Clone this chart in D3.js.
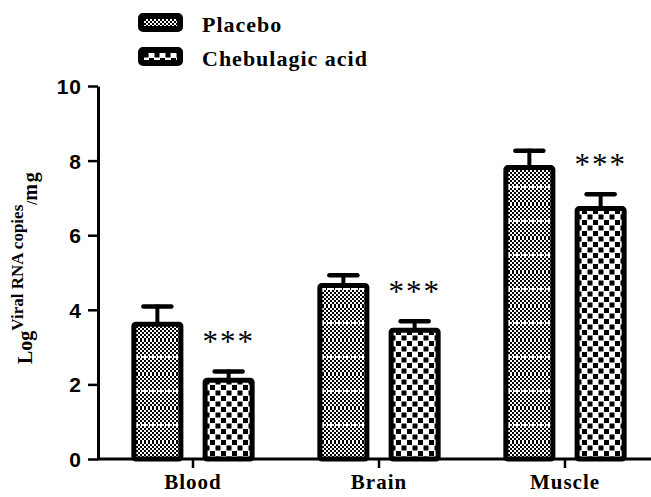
<!DOCTYPE html>
<html>
<head>
<meta charset="utf-8">
<script src="https://cdn.jsdelivr.net/npm/d3@7"></script>
<style>
  html, body { margin: 0; padding: 0; background: #fff; }
  svg { display: block; }
</style>
</head>
<body>
<div id="chart"></div>
<script>
// Data
const tissues = ['Blood', 'Brain', 'Muscle'];
const groups = ['Placebo', 'Chebulagic acid'];
const placeboMean = [3.68, 4.72, 7.88];
const placeboErr = [0.46, 0.26, 0.44];
const chebMean = [2.18, 3.52, 6.78];
const chebErr = [0.22, 0.23, 0.37];
const yTicks = [0, 2, 4, 6, 8, 10];
const significance = ['***', '***', '***'];

const width = 651;
const height = 497;
const serif = "'Liberation Serif', 'Times New Roman', serif";
const sans = "'Liberation Sans', Arial, sans-serif";

const svg = d3.select('#chart')
  .append('svg')
  .attr('width', width)
  .attr('height', height);

// Fill patterns
const defs = svg.append('defs');

const fine = defs.append('pattern')
  .attr('id', 'fine')
  .attr('patternUnits', 'userSpaceOnUse')
  .attr('width', 8)
  .attr('height', 34);
fine.append('rect').attr('width', 8).attr('height', 34).attr('fill', '#fff');
for (let r = 0; r < 34; r += 2) {
  for (let c = 0; c < 8; c += 2) {
    if (((r + c) / 2) % 2 === 0) {
      fine.append('rect').attr('x', c).attr('y', r).attr('width', 2).attr('height', 2).attr('fill', '#000');
    }
  }
}
fine.append('rect').attr('x', 1).attr('y', 16).attr('width', 6).attr('height', 2).attr('fill', '#fff');

const checker = defs.append('pattern')
  .attr('id', 'checker')
  .attr('patternUnits', 'userSpaceOnUse')
  .attr('width', 11)
  .attr('height', 11);
checker.append('rect').attr('width', 11).attr('height', 11).attr('fill', '#fff');
checker.append('rect').attr('x', 0).attr('y', 0).attr('width', 5).attr('height', 5).attr('fill', '#000');
checker.append('rect').attr('x', 5.5).attr('y', 5.5).attr('width', 5).attr('height', 5).attr('fill', '#000');

const fills = { 'Placebo': 'url(#fine)', 'Chebulagic acid': 'url(#checker)' };

// Scales
const x0 = d3.scaleBand()
  .domain(tissues)
  .range([100, 658])
  .paddingInner(0)
  .paddingOuter(0);

const x1 = d3.scaleBand()
  .domain(groups)
  .range([0, x0.bandwidth()])
  .paddingInner(0.27)
  .paddingOuter(0.44);

const y = d3.scaleLinear()
  .domain([0, 10])
  .range([459, 86]);

// Build rows
const rows = tissues.map((t, i) => ({
  tissue: t,
  bars: [
    { group: 'Placebo', mean: placeboMean[i], err: placeboErr[i] },
    { group: 'Chebulagic acid', mean: chebMean[i], err: chebErr[i] }
  ],
  sig: significance[i]
}));

const sw = 5;

const tissueG = svg.selectAll('.tissue')
  .data(rows)
  .join('g')
  .attr('class', 'tissue')
  .attr('transform', d => `translate(${x0(d.tissue)},0)`);

const barG = tissueG.selectAll('.bar')
  .data(d => d.bars)
  .join('g')
  .attr('class', 'bar');

// Error bars (drawn first, bar outline covers the stem base)
barG.append('line')
  .attr('x1', d => x1(d.group) + x1.bandwidth() / 2)
  .attr('x2', d => x1(d.group) + x1.bandwidth() / 2)
  .attr('y1', d => y(d.mean) + 2)
  .attr('y2', d => y(d.mean + d.err))
  .attr('stroke', '#000')
  .attr('stroke-width', 4);

barG.append('line')
  .attr('x1', d => x1(d.group) + x1.bandwidth() / 2 - 14)
  .attr('x2', d => x1(d.group) + x1.bandwidth() / 2 + 14)
  .attr('y1', d => y(d.mean + d.err) + 2)
  .attr('y2', d => y(d.mean + d.err) + 2)
  .attr('stroke', '#000')
  .attr('stroke-width', 4.5)
  .attr('stroke-linecap', 'round');

barG.append('rect')
  .attr('x', d => x1(d.group) + sw / 2)
  .attr('y', d => y(d.mean) + sw / 2)
  .attr('width', x1.bandwidth() - sw)
  .attr('height', d => y(0) - y(d.mean) - sw / 2)
  .attr('rx', 2)
  .attr('fill', d => fills[d.group])
  .attr('stroke', '#000')
  .attr('stroke-width', sw);

// Significance stars over the treated bar
tissueG.append('text')
  .attr('x', x1('Chebulagic acid') + x1.bandwidth() / 2)
  .attr('y', d => y(d.bars[1].mean + d.bars[1].err) - 17)
  .attr('text-anchor', 'middle')
  .style('font-family', serif)
  .style('font-size', '31px')
  .style('letter-spacing', '2px')
  .text(d => d.sig);

// X axis
const xAxis = svg.append('g')
  .attr('transform', `translate(0,${y(0)})`)
  .call(d3.axisBottom(x0).tickSize(9).tickPadding(6).tickSizeOuter(0));
xAxis.select('.domain').remove();
xAxis.append('line')
  .attr('x1', 97).attr('x2', width)
  .attr('stroke', '#000').attr('stroke-width', 3);
xAxis.selectAll('.tick line').attr('stroke-width', 2.5);
xAxis.selectAll('.tick text')
  .style('font-family', serif)
  .style('font-weight', 'bold')
  .style('font-size', '21px')
  .style('letter-spacing', '1px')
  .attr('fill', '#000');

// Y axis
const yAxis = svg.append('g')
  .attr('transform', 'translate(98,0)')
  .call(d3.axisLeft(y).tickValues(yTicks).tickSize(10).tickPadding(6).tickSizeOuter(0));
yAxis.select('.domain').attr('stroke-width', 3);
yAxis.selectAll('.tick line').attr('stroke-width', 2.5);
yAxis.selectAll('.tick text')
  .attr('dy', '0.36em')
  .style('font-family', sans)
  .style('font-weight', 'bold')
  .style('font-size', '21px')
  .style('letter-spacing', '1px')
  .attr('fill', '#000');

// Y axis title: Log^{Viral RNA copies}/_{mg}
const yTitle = svg.append('text')
  .attr('transform', 'translate(32,364) rotate(-90)')
  .style('font-family', serif)
  .style('font-weight', 'bold')
  .attr('fill', '#000');
yTitle.append('tspan').style('font-size', '20px').text('Log');
yTitle.append('tspan').attr('dy', -9).style('font-size', '17px').text('Viral RNA copies');
yTitle.append('tspan').attr('dy', 14).style('font-size', '14px').text('/');
yTitle.append('tspan').style('font-size', '20px').style('letter-spacing', '2px').text('mg');

// Legend
const legend = svg.append('g')
  .selectAll('g')
  .data(groups)
  .join('g')
  .attr('transform', (d, i) => `translate(138,${13 + i * 34})`);

legend.append('rect')
  .attr('x', 3).attr('y', 3)
  .attr('width', 39).attr('height', 13)
  .attr('rx', 2)
  .attr('fill', d => fills[d])
  .attr('stroke', '#000')
  .attr('stroke-width', 6);

legend.append('text')
  .attr('x', 64)
  .attr('y', 19)
  .style('font-family', serif)
  .style('font-weight', 'bold')
  .style('font-size', '22px')
  .style('letter-spacing', '1px')
  .attr('fill', '#000')
  .text(d => d);
</script>
</body>
</html>
